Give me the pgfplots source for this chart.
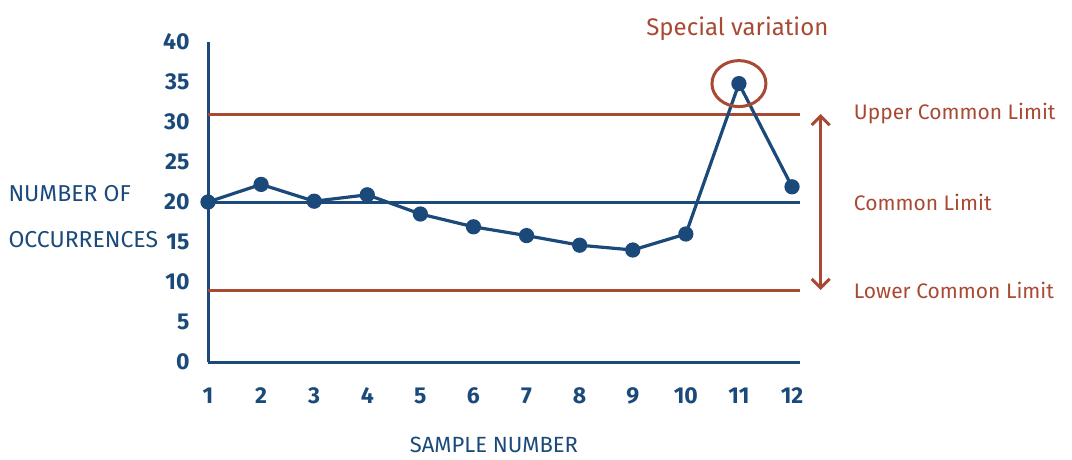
\documentclass[border=0pt]{standalone}
\usepackage{fontspec}
\setmainfont{Fira Sans}
\usepackage{pgfplots}
\pgfplotsset{compat=1.18}
\usetikzlibrary{arrows.meta}
\definecolor{cblue}{HTML}{1B4A7A}
\definecolor{cred}{HTML}{A84A33}
\begin{document}
\begin{tikzpicture}
\useasboundingbox (0pt,0pt) rectangle (1072pt,459pt);
\begin{axis}[
  at={(208pt,97pt)}, anchor=south west,
  scale only axis, width=592pt, height=320pt,
  xmin=1, xmax=12.15, ymin=0, ymax=40,
  axis x line=bottom, axis y line=left,
  axis line style={cblue, line width=3pt, -},
  xtick={1,...,12}, ytick={0,5,...,40},
  major tick length=0pt,
  /pgf/number format/assume math mode=true,
  ticklabel style={font=\fontsize{23}{23}\selectfont\bfseries, text=cblue},
  yticklabel style={anchor=east, xshift=-15pt},
  xticklabel style={anchor=north, yshift=-22pt},
  clip=false,
]
\addplot[cred, line width=3pt, forget plot] coordinates {(1,31) (12.15,31)};
\addplot[cblue, line width=3pt, forget plot] coordinates {(1,20) (12.15,20)};
\addplot[cred, line width=3pt, forget plot] coordinates {(1,9) (12.15,9)};
\addplot[cblue, line width=3.2pt, mark=*, mark size=6pt, mark options={fill=cblue}] coordinates {
(1,20) (2,22.2) (3,20.1) (4,20.9) (5,18.5) (6,16.9) (7,15.8) (8,14.6) (9,14) (10,16) (11,34.8) (12,21.9)};
\draw[cred, line width=3pt] (axis cs:11,34.8) ellipse [x radius=27pt, y radius=23pt];
\draw[cred, line width=3pt, {Straight Barb[length=9pt,width=18pt]}-{Straight Barb[length=9pt,width=18pt]}] (axis cs:12.54,31) -- (axis cs:12.54,9);
\node[anchor=west, text=cred, font=\fontsize{21}{21}\selectfont] at (axis cs:13.1,31) {Upper Common Limit};
\node[anchor=west, text=cred, font=\fontsize{21}{21}\selectfont] at (axis cs:13.1,19.9) {Common Limit};
\node[anchor=west, text=cred, font=\fontsize{21}{21}\selectfont] at (axis cs:13.1,9) {Lower Common Limit};
\node[text=cred, font=\fontsize{24}{24}\selectfont] at (axis cs:10.97,41.7) {Special variation};
\end{axis}
\node[anchor=west, text=cblue, font=\fontsize{23}{23}\selectfont] at (5pt,265pt) {NUMBER OF};
\node[anchor=west, text=cblue, font=\fontsize{23}{23}\selectfont] at (5pt,219pt) {OCCURRENCES};
\node[text=cblue, font=\fontsize{22}{22}\selectfont] at (494pt,14pt) {SAMPLE NUMBER};
\end{tikzpicture}
\end{document}
